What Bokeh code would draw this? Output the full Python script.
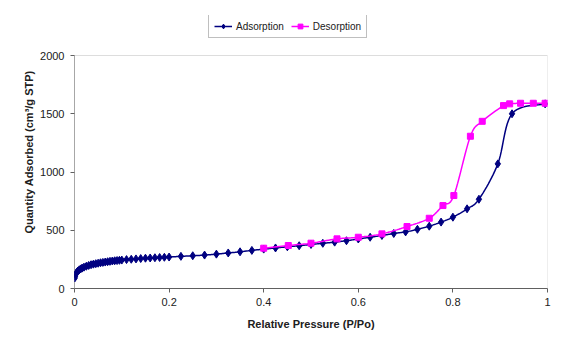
import numpy as np
from bokeh.plotting import figure
from bokeh.models import Legend, LegendItem, Range1d, FixedTicker, BoxAnnotation
from bokeh.embed import file_html
from bokeh.resources import INLINE

ads_x = [0.0005, 0.001, 0.002, 0.003, 0.005, 0.007, 0.01, 0.013, 0.016, 0.02,
         0.025, 0.03, 0.035, 0.04, 0.045, 0.05, 0.055, 0.06, 0.065, 0.07,
         0.075, 0.08, 0.085, 0.09, 0.095, 0.1, 0.11, 0.12, 0.13, 0.14,
         0.15, 0.16, 0.17, 0.18, 0.19, 0.2, 0.225, 0.25, 0.275, 0.3,
         0.325, 0.35, 0.375, 0.4, 0.425, 0.45, 0.475, 0.5, 0.525, 0.55,
         0.575, 0.6, 0.625, 0.65, 0.675, 0.7, 0.725, 0.75, 0.775, 0.8,
         0.83, 0.855, 0.895, 0.925, 0.995]
ads_y = [90, 105, 118, 128, 140, 150, 160, 168, 175, 183,
         191, 198, 204, 209, 213, 217, 221, 224, 227, 230,
         233, 236, 238, 240, 242, 244, 248, 251, 254, 257,
         260, 262, 264, 266, 268, 270, 276, 281, 287, 295,
         305, 315, 327, 338, 348, 358, 367, 378, 388, 398,
         410, 425, 440, 455, 472, 486, 508, 535, 570, 612,
         684, 766, 1070, 1500, 1585]

des_x = [0.995, 0.97, 0.943, 0.92, 0.907, 0.862, 0.837, 0.802, 0.779, 0.75,
         0.703, 0.65, 0.6, 0.555, 0.5, 0.452, 0.4]
des_y = [1590, 1590, 1590, 1585, 1570, 1435, 1307, 798, 712, 603,
         532, 469, 440, 426, 389, 369, 346]

x_ticks = [0, 0.2, 0.4, 0.6, 0.8, 1]
y_ticks = [0, 500, 1000, 1500, 2000]


def smooth(xs, ys, n=12):
    P = np.column_stack([xs, ys]).astype(float)
    P = np.vstack([P[0], P, P[-1]])
    out = []
    t = np.linspace(0, 1, n, endpoint=False)[:, None]
    for i in range(1, len(P) - 2):
        p0, p1, p2, p3 = P[i - 1], P[i], P[i + 1], P[i + 2]
        seg = 0.5 * ((2 * p1) + (-p0 + p2) * t + (2 * p0 - 5 * p1 + 4 * p2 - p3) * t ** 2
                     + (-p0 + 3 * p1 - 3 * p2 + p3) * t ** 3)
        out.append(seg)
    out.append(P[-2][None, :])
    S = np.vstack(out)
    return S[:, 0], S[:, 1]


# plot area: 233 px for 0..2000; extra 40 px of headroom above for the legend
Y_TOP = y_ticks[-1] * 273 / 233

p = figure(width=565, height=346, output_backend="svg", toolbar_location=None,
           x_range=Range1d(x_ticks[0], x_ticks[-1]), y_range=Range1d(0, Y_TOP),
           min_border_left=74, min_border_right=18, min_border_top=15, min_border_bottom=58)

ADS = "#000080"
DES = "#FF00FF"

# plot-area border (Excel style: grey frame, darker axes)
p.add_layout(BoxAnnotation(left=x_ticks[0], right=x_ticks[-1], bottom=y_ticks[0], top=y_ticks[-1],
                           fill_alpha=0, line_color="#909090", line_width=1, level="underlay"))
p.segment(x0=[x_ticks[0]], y0=[y_ticks[0]], x1=[x_ticks[0]], y1=[y_ticks[-1]],
          line_color="#606060", line_width=1)

sx, sy = smooth(ads_x, ads_y)
l1 = p.line(sx, sy, line_color=ADS, line_width=1.5)
m1 = p.scatter(ads_x, ads_y, marker="diamond", size=8, fill_color=ADS, line_color=ADS)
dx, dy = smooth(des_x, des_y)
l2 = p.line(dx, dy, line_color=DES, line_width=1.5)
m2 = p.scatter(des_x, des_y, marker="square", size=6, fill_color=DES, line_color=DES)

p.xgrid.visible = False
p.ygrid.visible = False
p.outline_line_color = None

for ax in (p.xaxis[0], p.yaxis[0]):
    ax.axis_line_color = "#606060"
    ax.major_tick_line_color = "#606060"
    ax.minor_tick_line_color = None
    ax.major_tick_out = 4
    ax.major_tick_in = 0
    ax.major_label_text_font = "Liberation Sans"
    ax.major_label_text_font_size = "11px"
    ax.major_label_text_color = "#202020"
    ax.axis_label_text_font = "Liberation Sans"
    ax.axis_label_text_font_size = "11px"
    ax.axis_label_text_font_style = "bold"
    ax.axis_label_text_color = "#202020"

p.yaxis.axis_line_color = None
p.xaxis.ticker = FixedTicker(ticks=x_ticks)
p.yaxis.ticker = FixedTicker(ticks=y_ticks)
p.xaxis.major_label_overrides = {0: "0", 0.2: "0.2", 0.4: "0.4", 0.6: "0.6", 0.8: "0.8", 1: "1"}
p.xaxis.axis_label = "Relative Pressure (P/Po)"
p.yaxis.axis_label = "Quantity Adsorbed (cm³/g STP)"
p.xaxis.major_label_standoff = 5
p.xaxis.axis_label_standoff = 9
p.yaxis.major_label_standoff = 6
p.yaxis.axis_label_standoff = 2

legend = Legend(items=[LegendItem(label="Adsorption", renderers=[l1, m1]),
                       LegendItem(label="Desorption", renderers=[l2, m2])],
                orientation="horizontal", location=(134, 250),
                label_text_font="Liberation Sans", label_text_font_size="10px",
                label_text_color="#202020", label_height=12,
                border_line_color="#808080", border_line_width=1,
                glyph_width=18, glyph_height=12, label_standoff=4, spacing=7,
                padding=5, margin=0)
p.add_layout(legend, "center")

open("out.html", "w").write(file_html(p, INLINE))
